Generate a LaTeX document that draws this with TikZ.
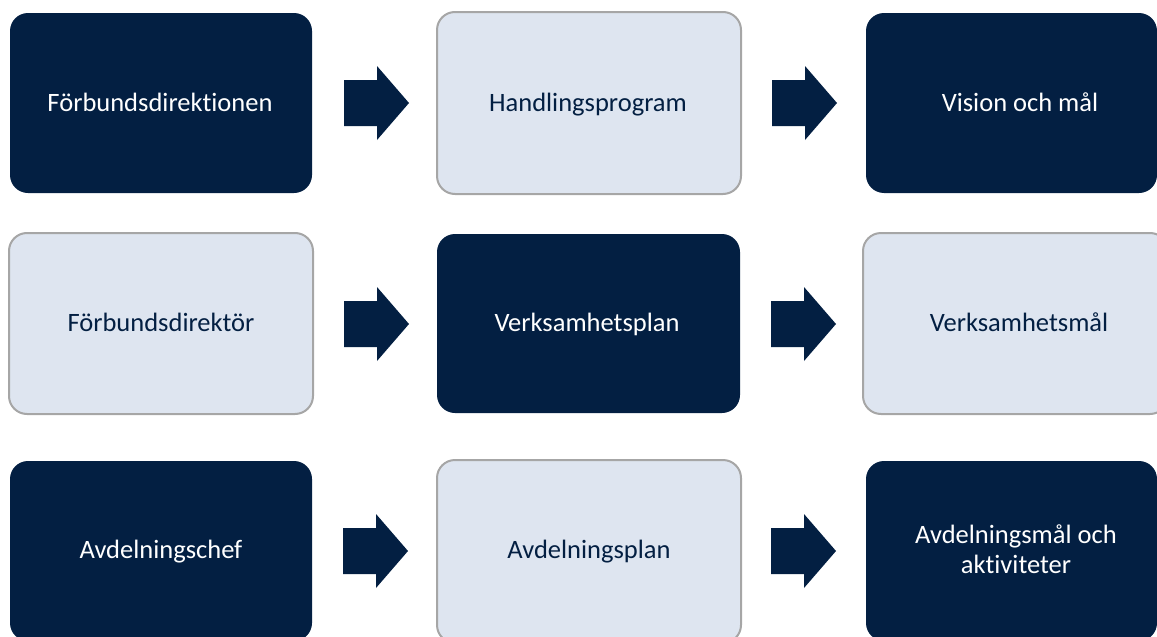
\documentclass[tikz,border=0pt]{standalone}
\usepackage{fontspec}
\setmainfont{Carlito}[Ligatures={NoCommon}]
\definecolor{navy}{RGB}{3,31,66}
\definecolor{pale}{RGB}{222,229,240}
\definecolor{edge}{RGB}{166,166,166}
\tikzset{
  darkbox/.style={fill=navy, rounded corners=18pt},
  lightbox/.style={fill=pale, draw=edge, line width=2pt, rounded corners=18pt},
  darktxt/.style={text=white, font=\fontsize{26.5}{30}\selectfont, align=center, inner sep=0pt, anchor=base},
  lighttxt/.style={text=navy, font=\fontsize{26.5}{30}\selectfont, align=center, inner sep=0pt, anchor=base},
  blk/.style={fill=navy}
}
\newcommand{\blkarrow}[2]{\fill[blk] (#1,#2-23) -- ++(33,0) -- ++(0,-14) -- ++(32,37) -- ++(-32,37) -- ++(0,-14) -- ++(-33,0) -- cycle;}
\begin{document}
\begin{tikzpicture}[x=1pt,y=-1pt]
\useasboundingbox (0,0) rectangle (1157,637);
\clip (0,0) rectangle (1157,637);
% row 1
\path[darkbox] (10,13) rectangle (312,193);
\node[darktxt] (a1) at (160,111) {Förbundsdirektionen};
\path[lightbox] (437,12) rectangle (741,194);
\node[lighttxt] (b1) at (588,111) {Handlingsprogram};
\path[darkbox] (866,13) rectangle (1157,193);
\node[darktxt] (c1) at (1020,111) {Vision och mål};
% row 2
\path[lightbox] (9,233) rectangle (313,414);
\node[lighttxt] (a2) at (161,331) {Förbundsdirektör};
\path[darkbox] (437,234) rectangle (740,413);
\node[darktxt] (b2) at (587,331) {Verksamhetsplan};
\path[lightbox] (863,233) rectangle (1168,414);
\node[lighttxt] (c2) at (1019,331) {Verksamhetsmål};
% row 3
\path[darkbox] (10,461) rectangle (312,641);
\node[darktxt] (a3) at (161,558) {Avdelningschef};
\path[lightbox] (437,460) rectangle (741,643);
\node[lighttxt] (b3) at (589,558) {Avdelningsplan};
\path[darkbox] (866,461) rectangle (1157,641);
\node[darktxt] (c3) at (1016,573) {Avdelningsmål och\\aktiviteter};
% arrows
\blkarrow{344}{103}
\blkarrow{772}{103}
\blkarrow{344}{324}
\blkarrow{771}{324}
\blkarrow{343}{551}
\blkarrow{771}{551}
\end{tikzpicture}
\end{document}
